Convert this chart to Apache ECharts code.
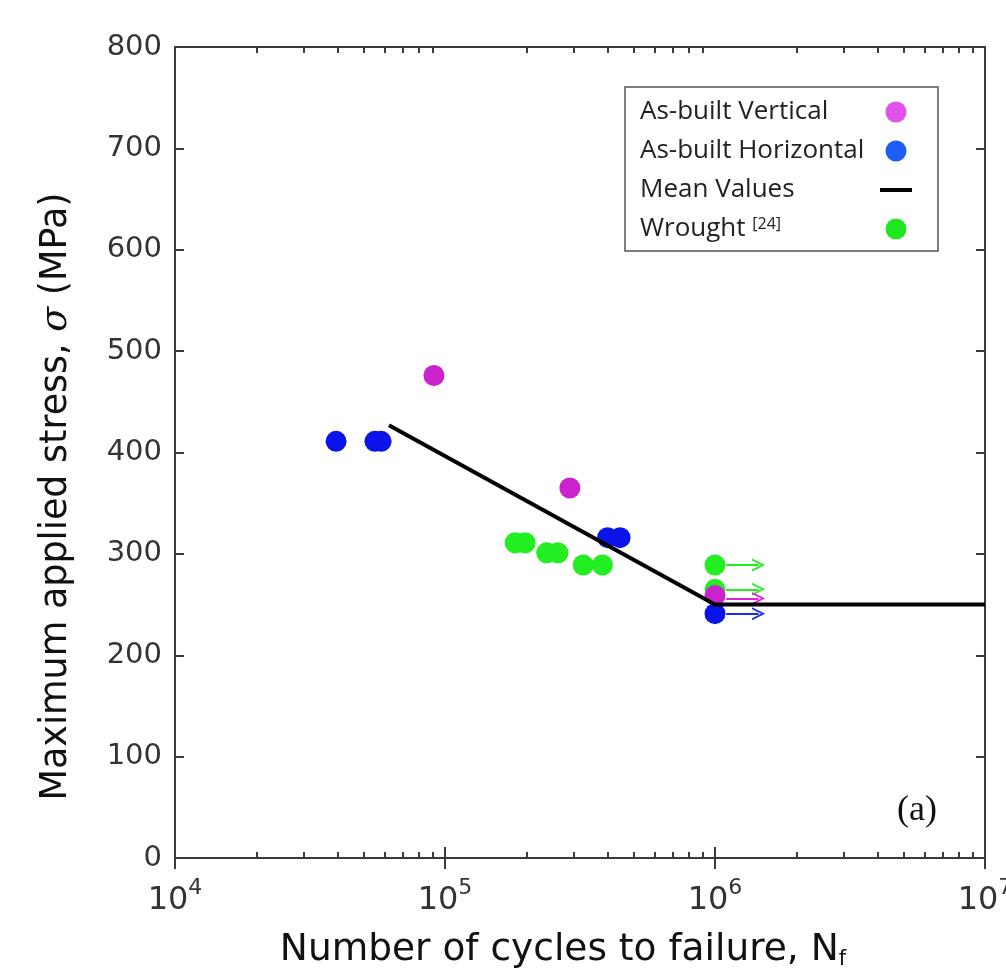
<!DOCTYPE html>
<html>
<head>
<meta charset="utf-8">
<script src="https://cdn.jsdelivr.net/npm/echarts@6/dist/echarts.min.js"></script>
<style>html,body{margin:0;padding:0;background:#fff;}#c{width:1006px;height:970px;}</style>
</head>
<body>
<div id="c"></div>
<script>
// ---- data ----
const vertX = [9.1e4, 2.9e5, 1e6];
const vertY = [476, 365, 259];
const horzX = [3.95e4, 5.5e4, 5.8e4, 4.0e5, 4.45e5, 1e6];
const horzY = [411, 411, 411, 316, 316, 241];
const wroughtX = [1.82e5, 1.98e5, 2.38e5, 2.62e5, 3.25e5, 3.83e5, 1e6, 1e6];
const wroughtY = [311, 311, 301, 301, 289, 289, 289, 265];
const meanX = [6.2e4, 1e6, 1e7];
const meanY = [427, 250, 250];
// run-outs (specimens that did not fail) at 10^6 cycles
const runoutX = 1e6;
const vertRunoutY = [256];
const horzRunoutY = [241];
const wroughtRunoutY = [289, 265];
// axis ticks
const xDecadeExps = [4, 5, 6, 7];
const yTicks = [0, 100, 200, 300, 400, 500, 600, 700, 800];

const names = ['As-built Vertical', 'As-built Horizontal', 'Mean Values', 'Wrought'];

const pair = (xs, ys) => xs.map((x, i) => [x, ys[i]]);
const minorTicks = [];
xDecadeExps.slice(0, -1).forEach(e => { for (let k = 2; k <= 9; k++) minorTicks.push(k * Math.pow(10, e)); });
const majorTicks = xDecadeExps.map(e => Math.pow(10, e));
const arrowStart = 1.1, arrowEnd = 1.45;
const runoutLines = ys => ys.map(y => ({ coords: [[runoutX * arrowStart, y], [runoutX * arrowEnd, y]] }));
const chevron = 'path://M0,12L6,0L12,12L10.2,12L6,3.6L1.8,12Z';

// legend text column width (icons sit in a column on the right)
const legFont = 26, legTextW = 235;
const mctx = document.createElement('canvas').getContext('2d');
mctx.font = legFont + 'px "Open Sans"';
const wroughtW = mctx.measureText('Wrought ').width;

const axisCol = '#3a3a3a';
const xMin = majorTicks[0], xMax = majorTicks[majorTicks.length - 1];

function xAx(pos, labels, ticks, len) {
  return {
    type: 'log', logBase: 10, min: xMin, max: xMax, position: pos,
    axisLine: { show: true, lineStyle: { color: axisCol, width: 2 } },
    axisTick: { show: true, inside: true, length: len, customValues: ticks, lineStyle: { color: axisCol, width: 2 } },
    splitLine: { show: false },
    axisLabel: labels ? {
      show: true, margin: 19, customValues: majorTicks,
      formatter: v => '{b|10}{sup|' + Math.round(Math.log10(v)) + '}',
      rich: {
        b: { fontFamily: 'DejaVu Sans', fontSize: 32, color: '#333', lineHeight: 40, verticalAlign: 'bottom' },
        sup: { fontFamily: 'DejaVu Sans', fontSize: 22, color: '#333', lineHeight: 40, verticalAlign: 'top' }
      }
    } : { show: false },
    name: labels ? 'Number of cycles to failure, N{sub|f}' : '',
    nameLocation: 'middle', nameGap: 73,
    nameTextStyle: {
      fontFamily: 'DejaVu Sans', fontSize: 37.5, color: '#111', padding: [0, 34, 0, 0],
      rich: { sub: { fontFamily: 'DejaVu Sans', fontSize: 21, color: '#111', verticalAlign: 'bottom', padding: [18, 0, 0, 0] } }
    }
  };
}
function yAx(pos, labels) {
  return {
    type: 'value', min: yTicks[0], max: yTicks[yTicks.length - 1], interval: 100, position: pos,
    axisLine: { show: true, lineStyle: { color: axisCol, width: 2 } },
    axisTick: { show: true, inside: true, length: 9, lineStyle: { color: axisCol, width: 2 } },
    splitLine: { show: false },
    axisLabel: labels ? { show: true, margin: 13, fontFamily: 'DejaVu Sans', fontSize: 29, color: '#333' } : { show: false },
    name: labels ? 'Maximum applied stress, {i|σ} (MPa)' : '',
    nameLocation: 'middle', nameGap: 100,
    nameTextStyle: {
      fontFamily: 'DejaVu Sans', fontSize: 36.5, color: '#111', padding: [0, 88, 0, 0],
      rich: { i: { fontFamily: 'DejaVu Serif', fontStyle: 'italic', fontSize: 36.5, color: '#111' } }
    }
  };
}

const chart = echarts.init(document.getElementById('c'), null, { renderer: 'canvas' });
chart.setOption({
  backgroundColor: '#fff',
  animation: false,
  grid: { left: 175, right: 21, top: 47, bottom: 112, containLabel: false, outerBoundsMode: 'none' },
  title: {
    text: '(a)', left: 892, top: 788,
    textStyle: { fontFamily: 'Liberation Serif', fontSize: 36, fontWeight: 'normal', color: '#111' }
  },
  legend: {
    orient: 'vertical', left: 625, top: 87, align: 'right',
    padding: [12, 26, 9, 15], itemGap: 13, itemWidth: 32, itemHeight: 21,
    borderColor: '#555', borderWidth: 1.5, backgroundColor: '#fff',
    data: [
      { name: names[0], itemStyle: { color: '#e052ea' } },
      { name: names[1], itemStyle: { color: '#1f5cf5' } },
      { name: names[2], icon: 'path://M0,0H32V4H0Z', itemStyle: { color: '#000' } },
      { name: names[3], itemStyle: { color: '#22e622' } }
    ],
    formatter: n => n === 'Wrought' ? '{a|Wrought }{sup|[24]}' : '{full|' + n + '}',
    textStyle: {
      fontFamily: 'Open Sans', fontSize: legFont, color: '#222', lineHeight: 26,
      rich: {
        full: { fontFamily: 'Open Sans', fontSize: legFont, color: '#222', width: legTextW, align: 'left' },
        a: { fontFamily: 'Open Sans', fontSize: legFont, color: '#222', align: 'left' },
        sup: { fontFamily: 'Open Sans', fontSize: 16, color: '#222', verticalAlign: 'top', width: legTextW - wroughtW, align: 'left', padding: [0, 0, 8, 0] }
      }
    }
  },
  xAxis: [
    xAx('bottom', true, majorTicks, 11),
    xAx('top', false, majorTicks, 11),
    xAx('bottom', false, minorTicks, 6),
    xAx('top', false, minorTicks, 6)
  ],
  yAxis: [yAx('left', true), yAx('right', false)],
  series: [
    {
      name: names[3], type: 'scatter', symbol: 'circle', symbolSize: 21,
      itemStyle: { color: '#22ee22', opacity: 1 }, data: pair(wroughtX, wroughtY), z: 2
    },
    {
      name: names[0], type: 'scatter', symbol: 'circle', symbolSize: 21,
      itemStyle: { color: '#cc22cc', opacity: 1 }, data: pair(vertX, vertY), z: 3
    },
    {
      name: names[1], type: 'scatter', symbol: 'circle', symbolSize: 21,
      itemStyle: { color: '#0a14e8', opacity: 1 }, data: pair(horzX, horzY), z: 3
    },
    {
      type: 'lines', coordinateSystem: 'cartesian2d', symbol: ['none', chevron], symbolSize: 13,
      lineStyle: { color: '#22ee22', width: 2, opacity: 1 }, data: runoutLines(wroughtRunoutY), z: 2
    },
    {
      type: 'lines', coordinateSystem: 'cartesian2d', symbol: ['none', chevron], symbolSize: 13,
      lineStyle: { color: '#dd22dd', width: 2, opacity: 1 }, data: runoutLines(vertRunoutY), z: 3
    },
    {
      type: 'lines', coordinateSystem: 'cartesian2d', symbol: ['none', chevron], symbolSize: 13,
      lineStyle: { color: '#1a2af0', width: 2, opacity: 1 }, data: runoutLines(horzRunoutY), z: 3
    },
    {
      name: names[2], type: 'line', symbol: 'none', showSymbol: false,
      lineStyle: { color: '#000', width: 4 }, itemStyle: { color: '#000' },
      data: pair(meanX, meanY), z: 4
    }
  ]
});
</script>
</body>
</html>
